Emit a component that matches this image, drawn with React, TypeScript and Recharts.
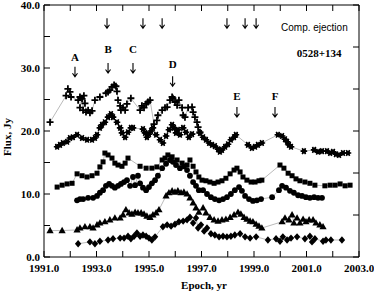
import { ScatterChart, Scatter, XAxis, YAxis, ReferenceDot } from 'recharts'

// [epoch, flux] pairs
const plusSeries: [number, number][] = [
  [1991.23, 21.4], [1991.84, 25.6], [1991.91, 26.7], [1991.99, 26.2], [1992.03, 25.4],
  [1992.30, 24.9], [1992.37, 25.4], [1992.37, 23.7], [1992.45, 25.1], [1992.49, 23.3],
  [1992.52, 25.6], [1992.56, 24.4], [1992.60, 23.0], [1992.68, 23.3], [1992.75, 22.9],
  [1992.83, 23.2], [1992.94, 24.9], [1993.13, 25.4], [1993.36, 26.0], [1993.44, 26.2],
  [1993.51, 26.5], [1993.59, 27.0], [1993.67, 27.3], [1993.74, 27.1], [1993.78, 26.3],
  [1993.82, 24.9], [1993.90, 24.0], [1993.93, 23.3], [1994.01, 23.7], [1994.09, 23.3],
  [1994.16, 24.3], [1994.31, 25.2], [1994.66, 23.3], [1994.73, 24.0], [1994.81, 23.7],
  [1994.89, 24.3], [1994.96, 24.6], [1995.04, 24.9], [1995.19, 21.1], [1995.30, 21.7],
  [1995.34, 22.5], [1995.50, 23.3], [1995.61, 23.7], [1995.69, 23.8], [1995.80, 24.9],
  [1995.88, 25.4], [1995.91, 25.2], [1995.99, 24.6], [1996.07, 24.1], [1996.14, 24.9],
  [1996.26, 23.7], [1996.30, 22.5], [1996.37, 22.2], [1996.49, 23.7], [1996.64, 23.8],
  [1996.68, 23.0], [1996.75, 22.2], [1996.83, 21.4], [1996.87, 20.6], [1996.94, 19.8],
]

const starSeries: [number, number][] = [
  [1991.50, 17.5], [1991.61, 17.8], [1991.72, 18.1], [1991.88, 18.3], [1991.99, 18.9],
  [1992.10, 19.0], [1992.26, 19.4], [1992.45, 18.9], [1992.64, 18.6], [1992.83, 18.6],
  [1992.94, 18.9], [1993.02, 19.4], [1993.13, 20.5], [1993.21, 21.0], [1993.32, 21.4],
  [1993.44, 22.2], [1993.55, 22.7], [1993.63, 22.2], [1993.78, 21.4], [1993.90, 20.5],
  [1993.97, 19.7], [1994.09, 19.0], [1994.20, 19.8], [1994.31, 20.5], [1994.39, 20.5],
  [1994.77, 20.3], [1994.85, 19.7], [1994.92, 19.0], [1995.00, 19.5], [1995.08, 20.0],
  [1995.15, 20.5], [1995.27, 19.4], [1995.42, 18.6], [1995.53, 18.1], [1995.65, 19.2],
  [1995.76, 20.2], [1995.88, 21.0], [1995.95, 20.5], [1996.03, 19.7], [1996.10, 20.2],
  [1996.18, 19.4], [1996.30, 20.5], [1996.41, 19.8], [1996.52, 19.0], [1996.64, 19.5],
  [1996.94, 19.7], [1997.06, 19.0], [1997.17, 18.6], [1997.29, 18.1], [1997.40, 17.8],
  [1997.51, 17.6], [1997.63, 17.1], [1997.70, 16.7], [1997.78, 17.0], [1997.90, 17.5],
  [1998.01, 17.9], [1998.12, 18.6], [1998.24, 19.0], [1998.31, 19.4], [1998.77, 17.8],
  [1998.92, 17.3], [1999.04, 17.5], [1999.15, 17.8], [1999.30, 18.1], [1999.91, 19.4],
  [2000.07, 19.2], [2000.18, 18.7], [2000.26, 18.3], [2000.33, 17.8], [2000.41, 17.5],
  [2000.90, 16.8], [2001.29, 17.0], [2001.44, 16.7], [2001.59, 16.8], [2001.78, 16.8],
  [2001.90, 16.5], [2002.01, 16.7], [2002.12, 16.3], [2002.24, 16.2], [2002.39, 16.5],
  [2002.58, 16.5],
]

const squareSeries: [number, number][] = [
  [1991.50, 11.1], [1991.69, 11.4], [1991.88, 11.6], [1992.07, 11.7], [1992.26, 13.2],
  [1992.45, 12.9], [1992.64, 12.7], [1992.83, 12.9], [1993.02, 13.3], [1993.13, 14.3],
  [1993.25, 15.1], [1993.32, 16.5], [1993.44, 16.2], [1993.59, 15.7], [1993.70, 14.9],
  [1993.82, 14.6], [1993.97, 14.4], [1994.09, 14.9], [1994.20, 15.7], [1994.66, 14.4],
  [1994.89, 14.1], [1995.11, 14.1], [1995.30, 14.3], [1995.50, 15.4], [1995.61, 15.7],
  [1995.72, 16.2], [1995.88, 15.9], [1996.07, 15.4], [1996.26, 14.9], [1996.45, 14.6],
  [1996.56, 15.4], [1996.68, 14.4], [1996.79, 13.5], [1996.90, 12.7], [1997.02, 12.2],
  [1997.17, 12.1], [1997.32, 11.9], [1997.48, 11.7], [1997.63, 11.9], [1997.78, 12.1],
  [1997.93, 12.5], [1998.09, 13.2], [1998.24, 13.8], [1998.35, 14.1], [1998.47, 13.5],
  [1998.58, 12.7], [1998.73, 12.2], [1998.89, 11.9], [1999.04, 11.9], [1999.19, 12.1],
  [1999.30, 12.2], [1999.99, 14.6], [2000.14, 14.1], [2000.30, 13.3], [2000.45, 12.9],
  [2000.60, 12.4], [2000.75, 12.1], [2000.94, 11.9], [2001.13, 11.7], [2001.32, 11.4],
  [2001.70, 11.3], [2001.90, 11.4], [2002.09, 11.4], [2002.28, 11.6], [2002.47, 11.3],
  [2002.66, 11.4],
]

const circleSeries: [number, number][] = [
  [1992.26, 9.0], [1992.37, 9.2], [1992.49, 9.2], [1992.68, 9.4], [1992.87, 9.4],
  [1993.02, 9.7], [1993.13, 10.2], [1993.25, 10.6], [1993.36, 11.3], [1993.48, 11.6],
  [1993.59, 11.3], [1993.70, 11.0], [1993.82, 11.3], [1993.93, 11.6], [1994.05, 11.9],
  [1994.16, 12.2], [1994.28, 11.3], [1994.39, 12.7], [1994.47, 11.4], [1994.58, 12.9],
  [1994.66, 11.7], [1994.77, 11.0], [1994.89, 10.6], [1995.00, 11.1], [1995.11, 11.7],
  [1995.23, 12.2], [1995.34, 12.9], [1995.50, 14.1], [1995.65, 14.8], [1995.80, 15.4],
  [1995.91, 15.1], [1996.03, 14.6], [1996.18, 14.1], [1996.33, 14.4], [1996.45, 13.8],
  [1996.56, 12.9], [1996.68, 11.9], [1996.79, 11.3], [1996.90, 10.6], [1997.06, 10.6],
  [1997.21, 10.0], [1997.36, 9.5], [1997.51, 9.2], [1997.67, 9.0], [1997.82, 9.2],
  [1997.97, 9.5], [1998.12, 10.0], [1998.27, 10.6], [1998.43, 11.1], [1998.54, 10.5],
  [1998.66, 9.7], [1998.81, 9.2], [1998.96, 8.9], [1999.11, 9.0], [1999.27, 9.2],
  [1999.69, 9.5], [1999.95, 10.6], [2000.07, 11.3], [2000.22, 11.0], [2000.37, 10.5],
  [2000.52, 10.2], [2000.68, 9.8], [2000.83, 9.7], [2000.98, 9.5], [2001.13, 9.4],
  [2001.29, 9.5], [2001.44, 9.4], [2001.59, 9.4],
]

const triangleSeries: [number, number][] = [
  [1991.23, 4.2], [1991.69, 4.2], [1992.26, 4.3], [1992.37, 4.6], [1992.56, 4.8],
  [1992.75, 4.8], [1992.87, 4.6], [1993.02, 5.1], [1993.13, 5.4], [1993.32, 5.6],
  [1993.51, 5.9], [1993.70, 6.2], [1993.90, 6.2], [1994.01, 6.7], [1994.12, 7.5],
  [1994.24, 7.0], [1994.35, 6.8], [1994.47, 7.1], [1994.58, 7.0], [1994.70, 7.0],
  [1994.81, 6.8], [1994.92, 6.5], [1995.04, 6.3], [1995.15, 6.7], [1995.27, 7.0],
  [1995.38, 7.5], [1995.65, 9.7], [1995.76, 10.2], [1995.88, 10.5], [1995.99, 10.3],
  [1996.10, 10.5], [1996.22, 10.2], [1996.33, 10.3], [1996.45, 10.0], [1996.56, 9.4],
  [1996.68, 8.6], [1996.79, 7.8], [1996.90, 7.1], [1997.06, 7.8], [1997.17, 7.0],
  [1997.32, 6.3], [1997.48, 5.9], [1997.63, 5.7], [1997.78, 5.9], [1997.93, 6.0],
  [1998.09, 6.3], [1998.24, 6.7], [1998.39, 7.1], [1998.50, 6.8], [1998.62, 6.3],
  [1998.73, 6.0], [1998.85, 5.7], [1998.96, 5.6], [1999.08, 5.2], [1999.19, 4.9],
  [1999.30, 4.6], [2000.07, 5.6], [2000.18, 6.2], [2000.33, 5.9], [2000.45, 6.7],
  [2000.52, 5.4], [2000.64, 6.2], [2000.75, 5.4], [2000.87, 6.0], [2000.98, 5.6],
  [2001.10, 5.9], [2001.25, 5.9], [2001.36, 5.4], [2001.51, 5.1], [2001.63, 4.8],
]

const diamondSeries: [number, number][] = [
  [1992.30, 2.1], [1992.75, 2.4], [1992.94, 2.1], [1993.13, 2.5], [1993.44, 2.7],
  [1993.63, 2.9], [1993.90, 3.0], [1994.05, 3.0], [1994.20, 3.3], [1994.31, 2.9],
  [1994.43, 3.3], [1994.54, 3.8], [1994.66, 3.3], [1994.77, 3.5], [1994.89, 3.3],
  [1995.00, 3.0], [1995.11, 2.7], [1995.23, 3.2], [1995.53, 4.8], [1995.69, 5.1],
  [1995.84, 4.9], [1995.99, 5.2], [1996.14, 5.6], [1996.30, 5.7], [1996.45, 5.9],
  [1996.56, 6.3], [1996.68, 5.4], [1996.79, 6.2], [1996.87, 4.6], [1996.98, 5.1],
  [1997.10, 4.1], [1997.21, 4.6], [1997.36, 3.7], [1997.51, 3.5], [1997.67, 3.2],
  [1997.82, 3.3], [1997.97, 3.2], [1998.12, 3.3], [1998.27, 3.5], [1998.47, 3.7],
  [1998.66, 3.2], [1998.85, 3.0], [1999.08, 3.2], [1999.53, 2.7], [1999.84, 2.9],
  [1999.99, 2.5], [2000.10, 3.2], [2000.26, 2.7], [2000.41, 3.0], [2000.64, 3.2],
  [2000.94, 2.9], [2001.13, 3.3], [2001.21, 2.4], [2001.32, 2.9], [2001.63, 2.5],
  [2001.74, 2.7], [2001.93, 2.7], [2002.35, 2.7],
]

const yearTicks = [1991, 1992, 1993, 1994, 1995, 1996, 1997, 1998, 1999, 2000, 2001, 2002, 2003]
const fluxTicks = [0, 5, 10, 15, 20, 25, 30, 35, 40]
const rightTicks = [0, 1, 2, 3, 4, 5, 6]

// component ejection arrows along the top
const ejectionEpochs = [1993.40, 1994.77, 1995.50, 1997.97, 1998.66, 1999.08]

// flare labels with their arrows
const flares = [
  { name: 'A', x: 1992.18, label: 31.7, arrow: 29.4 },
  { name: 'B', x: 1993.44, label: 33.0, arrow: 30.0 },
  { name: 'C', x: 1994.39, label: 33.0, arrow: 30.0 },
  { name: 'D', x: 1995.90, label: 30.6, arrow: 27.9 },
  { name: 'E', x: 1998.35, label: 25.6, arrow: 23.0 },
  { name: 'F', x: 1999.80, label: 25.6, arrow: 23.0 },
]

const SERIF = '"Liberation Serif", "DejaVu Serif", serif'
const SANS = '"Liberation Sans", Arial, sans-serif'

const toPoints = (s: [number, number][]) => s.map(([x, y]) => ({ x, y }))

type Kind = 'plus' | 'star' | 'square' | 'circle' | 'triangle' | 'diamond'

const marker = (kind: Kind) => (props: any) => {
  const { cx, cy } = props
  if (cx == null || cy == null) return <g />
  switch (kind) {
    case 'plus':
      return <path d={`M${cx - 3.5},${cy}H${cx + 3.5}M${cx},${cy - 3.5}V${cy + 3.5}`} stroke="#000" strokeWidth={1.8} />
    case 'star':
      return (
        <g stroke="#000" strokeWidth={1.6}>
          <path d={`M${cx - 3.3},${cy}H${cx + 3.3}M${cx - 1.7},${cy - 2.9}L${cx + 1.7},${cy + 2.9}M${cx + 1.7},${cy - 2.9}L${cx - 1.7},${cy + 2.9}`} />
          <circle cx={cx} cy={cy} r={1.5} fill="#000" />
        </g>
      )
    case 'square':
      return <rect x={cx - 2.5} y={cy - 2.5} width={5} height={5} fill="#000" />
    case 'circle':
      return <circle cx={cx} cy={cy} r={2.9} fill="#000" />
    case 'triangle':
      return <polygon points={`${cx},${cy - 3.8} ${cx - 3.6},${cy + 2.6} ${cx + 3.6},${cy + 2.6}`} fill="#000" />
    case 'diamond':
      return <polygon points={`${cx},${cy - 3.7} ${cx + 3.2},${cy} ${cx},${cy + 3.7} ${cx - 3.2},${cy}`} fill="#000" />
  }
}

const tickFont = { fontFamily: SERIF, fontSize: 11, fontWeight: 700, fill: '#000' }

const BottomTick = ({ x, y, payload }: any) => (
  <g>
    <line x1={x} x2={x} y1={y} y2={y - 6} stroke="#000" />
    {payload.value % 2 === 1 && (
      <text x={x} y={y + 15} textAnchor="middle" {...tickFont}>{payload.value.toFixed(1)}</text>
    )}
  </g>
)

const TopTick = ({ x, y }: any) => <line x1={x} x2={x} y1={y} y2={y + 6} stroke="#000" />

const LeftTick = ({ x, y, payload }: any) => (
  <g>
    <line x1={x} x2={x + 6} y1={y} y2={y} stroke="#000" />
    {payload.value % 10 === 0 && (
      <text x={x - 4} y={y + 4} textAnchor="end" {...tickFont}>{payload.value.toFixed(1)}</text>
    )}
  </g>
)

const RightTick = ({ x, y }: any) => <line x1={x} x2={x - 6} y1={y} y2={y} stroke="#000" />

const seriesList: { data: [number, number][]; kind: Kind }[] = [
  { data: plusSeries, kind: 'plus' },
  { data: starSeries, kind: 'star' },
  { data: squareSeries, kind: 'square' },
  { data: circleSeries, kind: 'circle' },
  { data: triangleSeries, kind: 'triangle' },
  { data: diamondSeries, kind: 'diamond' },
]

const textAt = (text: string, style: any) => (p: any) => (
  <text x={p.cx} y={p.cy} dominantBaseline="central" textAnchor="middle" {...style}>{text}</text>
)

// down arrow centred on the reference point
const arrowAt = (p: any) => (
  <path d={`M${p.cx},${p.cy - 5}V${p.cy + 5}M${p.cx - 2.5},${p.cy + 1.5}L${p.cx},${p.cy + 5}L${p.cx + 2.5},${p.cy + 1.5}`}
    stroke="#000" strokeWidth={1.1} fill="none" />
)

export default function App() {
  return (
    <div style={{ position: 'absolute', left: 0, top: 0, width: 374, height: 297, background: '#fff' }}>
      <ScatterChart width={374} height={297} margin={{ top: 0, right: 0, bottom: 0, left: 0 }}>
        <XAxis xAxisId="bottom" type="number" dataKey="x" domain={[1991, 2003]} ticks={yearTicks}
          allowDataOverflow height={40} tickSize={0} tickMargin={0} tickLine={false}
          axisLine={{ stroke: '#000' }} tick={BottomTick} interval={0} />
        <XAxis xAxisId="top" orientation="top" type="number" dataKey="x" domain={[1991, 2003]} ticks={yearTicks}
          allowDataOverflow height={5} tickSize={0} tickMargin={0} tickLine={false}
          axisLine={{ stroke: '#000' }} tick={TopTick} interval={0} />
        <YAxis yAxisId="left" type="number" dataKey="y" domain={[0, 40]} ticks={fluxTicks}
          allowDataOverflow width={44} tickSize={0} tickMargin={0} tickLine={false}
          axisLine={{ stroke: '#000' }} tick={LeftTick} interval={0} />
        <YAxis yAxisId="right" orientation="right" type="number" dataKey="y" domain={[0, 6]} ticks={rightTicks}
          allowDataOverflow width={15} tickSize={0} tickMargin={0} tickLine={false}
          axisLine={{ stroke: '#000' }} tick={RightTick} interval={0} />

        {seriesList.map((s, i) => (
          <Scatter key={i} xAxisId="bottom" yAxisId="left" data={toPoints(s.data)}
            line={{ stroke: '#8c8c8c', strokeWidth: 0.6 }} shape={marker(s.kind)}
            isAnimationActive={false} />
        ))}

        {ejectionEpochs.map((x, i) => (
          <ReferenceDot key={'ej' + i} xAxisId="bottom" yAxisId="left" x={x} y={37.1} r={0}
            ifOverflow="visible" shape={arrowAt} />
        ))}
        {flares.map(f => (
          <ReferenceDot key={'l' + f.name} xAxisId="bottom" yAxisId="left" x={f.x} y={f.label} r={0}
            ifOverflow="visible" shape={textAt(f.name, { fontFamily: SERIF, fontSize: 11, fontWeight: 700, fill: '#000' })} />
        ))}
        {flares.map(f => (
          <ReferenceDot key={'a' + f.name} xAxisId="bottom" yAxisId="left" x={f.x} y={f.arrow} r={0}
            ifOverflow="visible" shape={arrowAt} />
        ))}
        <ReferenceDot xAxisId="bottom" yAxisId="left" x={2001.3} y={36.5} r={0} ifOverflow="visible"
          shape={textAt('Comp. ejection', { fontFamily: SANS, fontSize: 10, fill: '#000' })} />
        <ReferenceDot xAxisId="bottom" yAxisId="left" x={2001.48} y={32.4} r={0} ifOverflow="visible"
          shape={textAt('0528+134', { fontFamily: SERIF, fontSize: 11, fontWeight: 700, fill: '#000' })} />

        <text x={204} y={289} textAnchor="middle" fontFamily={SERIF} fontSize={11} fontWeight={700}>Epoch, yr</text>
        <text x={11} y={137} textAnchor="middle" transform="rotate(-90 11 137)" fontFamily={SERIF} fontSize={11} fontWeight={700}>Flux, Jy</text>
      </ScatterChart>
    </div>
  )
}
